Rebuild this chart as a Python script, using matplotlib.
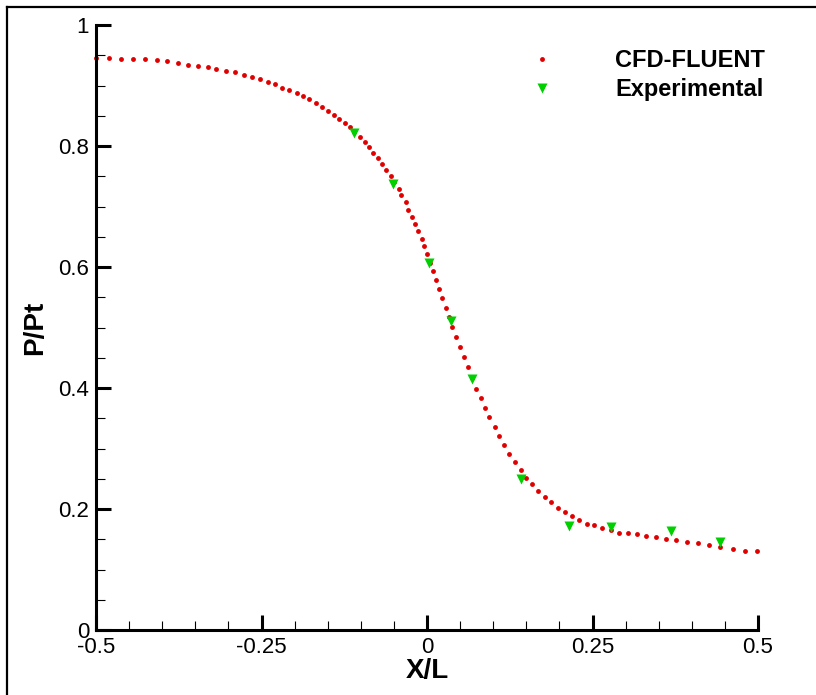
import matplotlib
matplotlib.use("Agg")
import matplotlib.pyplot as plt
from matplotlib.lines import Line2D
from matplotlib.ticker import MultipleLocator

plt.rcParams['font.family'] = ['Liberation Sans', 'DejaVu Sans']

# CFD-FLUENT curve
cfd_x = [-0.500, -0.480, -0.462, -0.444, -0.426, -0.408, -0.393, -0.376, -0.361, -0.346,
         -0.331, -0.318, -0.304, -0.290, -0.277, -0.264, -0.252, -0.240, -0.230, -0.219,
         -0.208, -0.197, -0.187, -0.178, -0.168, -0.159, -0.150, -0.141, -0.133, -0.124,
         -0.117, -0.110, -0.101, -0.094, -0.087, -0.081, -0.074, -0.068, -0.062, -0.055,
         -0.050, -0.043, -0.039, -0.032, -0.028, -0.023, -0.018, -0.013, -0.008, -0.005,
         0.000, 0.005, 0.009, 0.013, 0.018, 0.023, 0.028, 0.033, 0.038, 0.044,
         0.050, 0.056, 0.062, 0.068, 0.074, 0.081, 0.087, 0.094, 0.102, 0.109,
         0.117, 0.124, 0.133, 0.142, 0.150, 0.159, 0.168, 0.178, 0.188, 0.198,
         0.208, 0.219, 0.230, 0.241, 0.253, 0.265, 0.278, 0.290, 0.304, 0.317,
         0.331, 0.346, 0.361, 0.376, 0.393, 0.409, 0.426, 0.443, 0.462, 0.480, 0.499]
cfd_y = [0.945, 0.945, 0.944, 0.944, 0.943, 0.942, 0.940, 0.938, 0.934, 0.933,
         0.931, 0.927, 0.924, 0.922, 0.918, 0.914, 0.910, 0.906, 0.902, 0.896,
         0.893, 0.887, 0.882, 0.877, 0.871, 0.865, 0.858, 0.852, 0.845, 0.838,
         0.831, 0.823, 0.815, 0.806, 0.798, 0.789, 0.780, 0.771, 0.761, 0.751,
         0.741, 0.729, 0.719, 0.707, 0.695, 0.683, 0.671, 0.659, 0.646, 0.634,
         0.621, 0.607, 0.593, 0.579, 0.564, 0.549, 0.533, 0.518, 0.501, 0.484,
         0.467, 0.451, 0.434, 0.417, 0.399, 0.383, 0.367, 0.352, 0.336, 0.321,
         0.306, 0.291, 0.278, 0.265, 0.252, 0.241, 0.229, 0.220, 0.211, 0.202,
         0.195, 0.188, 0.182, 0.176, 0.173, 0.169, 0.165, 0.161, 0.160, 0.158,
         0.155, 0.153, 0.151, 0.148, 0.146, 0.143, 0.140, 0.137, 0.134, 0.131, 0.130]

# experimental points
exp_x = [-0.110, -0.051, 0.003, 0.036, 0.068, 0.142, 0.214, 0.278, 0.368, 0.443]
exp_y = [0.821, 0.737, 0.606, 0.511, 0.415, 0.249, 0.172, 0.170, 0.163, 0.146]

x_ticks = [-0.5, -0.25, 0, 0.25, 0.5]
x_labels = ['-0.5', '-0.25', '0', '0.25', '0.5']
y_ticks = [0, 0.2, 0.4, 0.6, 0.8, 1]
y_labels = ['0', '0.2', '0.4', '0.6', '0.8', '1']

fig = plt.figure(figsize=(8.16, 6.95), dpi=100)
ax = fig.add_axes([96 / 816, 1 - 630 / 695, 662 / 816, 605 / 695])

ax.plot(cfd_x, cfd_y, linestyle='none', marker='o', ms=3.5, color='#e00000',
        mec='none', clip_on=False, label='CFD-FLUENT', zorder=3)
ax.plot(exp_x, exp_y, linestyle='none', marker='v', ms=6.5, color='#00d000',
        mec='none', clip_on=False, label='Experimental', zorder=4)

ax.set_xlim(-0.5, 0.5)
ax.set_ylim(0, 1)
ax.set_xticks(x_ticks)
ax.set_xticklabels(x_labels)
ax.set_yticks(y_ticks)
ax.set_yticklabels(y_labels)
ax.xaxis.set_minor_locator(MultipleLocator(0.05))
ax.yaxis.set_minor_locator(MultipleLocator(0.05))

for s in ['top', 'right']:
    ax.spines[s].set_visible(False)
for s in ['left', 'bottom']:
    ax.spines[s].set_linewidth(2.2)
    ax.spines[s].set_zorder(5)

ax.tick_params(which='major', direction='in', length=11, width=2.2, labelsize=16, pad=5)
ax.tick_params(which='minor', direction='in', length=6.5, width=0.8)

ax.set_xlabel('X/L', fontsize=20, fontweight='bold')
ax.set_ylabel('P/Pt', fontsize=20, fontweight='bold')
ax.xaxis.set_label_coords(0.5, -41 / 605)
ax.xaxis.label.set_va('center')
ax.yaxis.set_label_coords(-61 / 662, 0.5)
ax.yaxis.label.set_va('center')

ax.legend(loc='upper left', bbox_to_anchor=(0.638, 0.960), frameon=False,
          handlelength=2, handletextpad=2.1, labelspacing=0.25,
          borderpad=0, borderaxespad=0,
          prop={'weight': 'bold', 'size': 17})

# outer frame of the picture
fig.add_artist(Line2D([7 / 816, 7 / 816], [0, 1 - 7 / 695], transform=fig.transFigure,
                      color='black', lw=1.6))
fig.add_artist(Line2D([7 / 816, 1], [1 - 7 / 695, 1 - 7 / 695], transform=fig.transFigure,
                      color='black', lw=1.6))

fig.savefig('out.png', dpi=100)
